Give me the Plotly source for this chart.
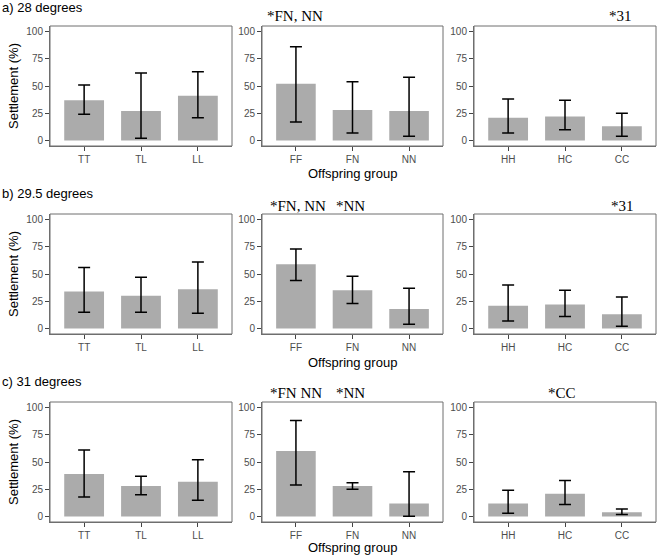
import plotly.graph_objects as go

W, H = 657, 557

# ---- data ----
row_titles = ["a) 28 degrees", "b) 29.5 degrees", "c) 31 degrees"]
groups_left = ["TT", "TL", "LL"]
groups_mid = ["FF", "FN", "NN"]
groups_right = ["HH", "HC", "CC"]
groups = [groups_left, groups_mid, groups_right]

# row a) 28 degrees
a_left_mean = [37, 27, 41]
a_left_low = [24, 2, 21]
a_left_high = [51, 62, 63]
a_mid_mean = [52, 28, 27]
a_mid_low = [17, 7, 4]
a_mid_high = [86, 54, 58]
a_right_mean = [21, 22, 13]
a_right_low = [7, 10, 4]
a_right_high = [38, 37, 25]

# row b) 29.5 degrees
b_left_mean = [34, 30, 36]
b_left_low = [15, 15, 14]
b_left_high = [56, 47, 61]
b_mid_mean = [59, 35, 18]
b_mid_low = [44, 23, 4]
b_mid_high = [73, 48, 37]
b_right_mean = [21, 22, 13]
b_right_low = [7, 11, 2]
b_right_high = [40, 35, 29]

# row c) 31 degrees
c_left_mean = [39, 28, 32]
c_left_low = [18, 20, 15]
c_left_high = [61, 37, 52]
c_mid_mean = [60, 28, 12]
c_mid_low = [29, 25, 0.3]
c_mid_high = [88, 31, 41]
c_right_mean = [12, 21, 4]
c_right_low = [3, 11, 1.8]
c_right_high = [24, 33, 7]

data = [
    [(a_left_mean, a_left_low, a_left_high), (a_mid_mean, a_mid_low, a_mid_high), (a_right_mean, a_right_low, a_right_high)],
    [(b_left_mean, b_left_low, b_left_high), (b_mid_mean, b_mid_low, b_mid_high), (b_right_mean, b_right_low, b_right_high)],
    [(c_left_mean, c_left_low, c_left_high), (c_mid_mean, c_mid_low, c_mid_high), (c_right_mean, c_right_low, c_right_high)],
]

# significance labels: (row, text, x_px_center)
sig_labels = [
    (0, "*FN, NN", 295), (0, "*31", 620),
    (1, "*FN, NN", 298), (1, "*NN", 350), (1, "*31", 622),
    (2, "*FN NN", 296), (2, "*NN", 350), (2, "*CC", 562),
]
y_ticks = [0, 25, 50, 75, 100]

# ---- layout geometry (pixels) ----
rows_px = [(26, 146), (214, 334), (402, 522)]
cols_px = [(50, 232), (262, 443), (474, 656)]
title_y = [8, 193, 382]
sig_y = [16, 206, 393]
xlab_y = [174, 362, 547]


def px(x):
    return x / W


def py(y):
    return 1 - y / H


fig = go.Figure()
layout = dict(
    width=W, height=H, margin=dict(l=0, r=0, t=0, b=0),
    paper_bgcolor="white", plot_bgcolor="white", showlegend=False,
    font=dict(family="Liberation Sans, Arial, sans-serif", color="black"),
)
annotations = []
shapes = []
border_color = "#6e6e6e"

k = 0
for r in range(3):
    for c in range(3):
        k += 1
        xa = "x" if k == 1 else f"x{k}"
        ya = "y" if k == 1 else f"y{k}"
        mean, low, high = data[r][c]
        fig.add_trace(go.Bar(
            x=groups[c], y=mean, xaxis=xa, yaxis=ya, width=0.7,
            marker=dict(color="#ababab", line=dict(width=0)),
            error_y=dict(type="data", symmetric=False,
                         array=[h - m for h, m in zip(high, mean)],
                         arrayminus=[m - l for m, l in zip(mean, low)],
                         color="black", thickness=1.5, width=6),
        ))
        x0, x1 = cols_px[c]
        y0, y1 = rows_px[r]
        axis_common = dict(showgrid=False, zeroline=False, showline=True,
                           linecolor=border_color, linewidth=1, ticks="outside",
                           ticklen=4, tickcolor="#444444",
                           tickfont=dict(size=10, color="#4d4d4d"))
        layout["xaxis" if k == 1 else f"xaxis{k}"] = dict(
            domain=[px(x0), px(x1)], anchor=ya, range=[-0.6, 2.6],
            type="category", **axis_common)
        layout["yaxis" if k == 1 else f"yaxis{k}"] = dict(
            domain=[py(y1), py(y0)], anchor=xa, range=[-5, 105],
            tickvals=y_ticks, **axis_common)
        shapes.append(dict(type="rect", xref="paper", yref="paper",
                           x0=px(x0), x1=px(x1), y0=py(y1), y1=py(y0),
                           line=dict(color=border_color, width=1), layer="above"))

for r in range(3):
    annotations.append(dict(text=row_titles[r], x=0, y=py(title_y[r]),
                            xref="paper", yref="paper", xanchor="left",
                            yanchor="middle", showarrow=False,
                            font=dict(size=13, color="black")))
    annotations.append(dict(text="Settlement (%)", x=px(13),
                            y=py((rows_px[r][0] + rows_px[r][1]) / 2),
                            xref="paper", yref="paper", textangle=-90,
                            xanchor="center", yanchor="middle", showarrow=False,
                            font=dict(size=13, color="black")))
    annotations.append(dict(text="Offspring group", x=px(352.5), y=py(xlab_y[r]),
                            xref="paper", yref="paper", xanchor="center",
                            yanchor="middle", showarrow=False,
                            font=dict(size=13, color="black")))

for r, txt, xc in sig_labels:
    annotations.append(dict(text=txt, x=px(xc), y=py(sig_y[r]),
                            xref="paper", yref="paper", xanchor="center",
                            yanchor="middle", showarrow=False,
                            font=dict(size=15, color="black",
                                      family="Liberation Serif, Times New Roman, serif")))

layout["annotations"] = annotations
layout["shapes"] = shapes
fig.update_layout(**layout)
fig.write_html("out.html", config={"displayModeBar": False},
               post_script="document.body.style.margin='0';document.body.style.overflow='hidden';")
